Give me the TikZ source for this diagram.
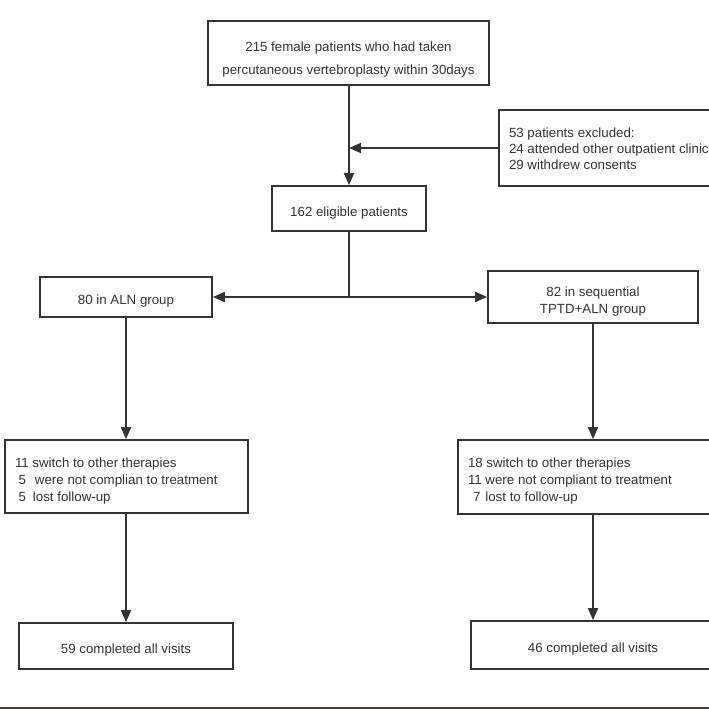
\documentclass[tikz,border=0pt]{standalone}
\usepackage{fontspec}
\setmainfont{Liberation Sans}
\usetikzlibrary{arrows.meta}
\definecolor{ink}{HTML}{333333}
\definecolor{rulecol}{HTML}{4A3E3E}
\newcommand{\upby}[1]{\rule{0pt}{#1}}
\begin{document}
\begin{tikzpicture}[x=1pt,y=-1pt,
  cbox/.style={draw=ink, line width=1.8pt, text=ink, font=\fontsize{13.3}{17}\selectfont, inner sep=0pt, align=center},
  lbox/.style={draw=ink, line width=1.8pt, text=ink, font=\fontsize{13.3}{17}\selectfont, inner xsep=10pt, inner ysep=0pt, align=flush left},
  conn/.style={draw=ink, line width=1.8pt},
  arr/.style={conn, -{Triangle[length=12pt,width=10pt]}}]
\useasboundingbox (0,0) rectangle (709,709);
\clip (0,0) rectangle (709,709);
\fill[white] (0,0) rectangle (709,709);

\node[cbox, minimum width=281pt, minimum height=64pt, font=\fontsize{13.3}{23}\selectfont] (top) at (348.5,53)
  {\upby{22pt}215 female patients who had taken\\percutaneous vertebroplasty within 30days};
\node[lbox, text width=241pt, minimum height=76pt, font=\fontsize{13.3}{16}\selectfont] (excl) at (629.5,148)
  {\upby{12pt}53 patients excluded:\\24 attended other outpatient clinic\\29 withdrew consents};
\node[cbox, minimum width=154pt, minimum height=45pt] (elig) at (349,208.5) {\upby{18pt}162 eligible patients};
\node[cbox, minimum width=172pt, minimum height=40pt] (aln) at (126,297) {\upby{18pt}80 in ALN group};
\node[cbox, minimum width=210pt, minimum height=52pt] (tptd) at (593,297) {\upby{18pt}82 in sequential\\TPTD+ALN group};
\node[lbox, text width=223pt, minimum height=73pt] (sw1) at (126.5,476.5)
  {\upby{18pt}11 switch to other therapies\\\hspace{3.6pt}5\hspace{9pt}were not complian to treatment\\\hspace{3.6pt}5\hspace{7pt}lost follow-up};
\node[lbox, text width=250pt, minimum height=74pt] (sw2) at (593,477)
  {\upby{18pt}18 switch to other therapies\\11 were not compliant to treatment\\\hspace{5pt}7\hspace{5pt}lost to follow-up};
\node[cbox, minimum width=214pt, minimum height=46pt] (done1) at (126,646) {\upby{18pt}59 completed all visits};
\node[cbox, minimum width=244pt, minimum height=48pt] (done2) at (593,645) {\upby{17pt}46 completed all visits};

\coordinate (split) at (349,297);
\draw[arr] (elig.north |- top.south) -- (elig.north);
\draw[arr] (excl.west) -- (excl.west -| elig.north);
\draw[conn] (elig.south) -- (split);
\draw[arr] (split) -- (aln.east);
\draw[arr] (split) -- (tptd.west);
\draw[arr] (aln.south) -- (aln.south |- sw1.north);
\draw[arr] (tptd.south) -- (tptd.south |- sw2.north);
\draw[arr] (sw1.south -| done1.north) -- (done1.north);
\draw[arr] (sw2.south) -- (done2.north);
\draw[draw=rulecol, line width=1.6pt] (0,707.8) -- (709,707.8);
\end{tikzpicture}
\end{document}
